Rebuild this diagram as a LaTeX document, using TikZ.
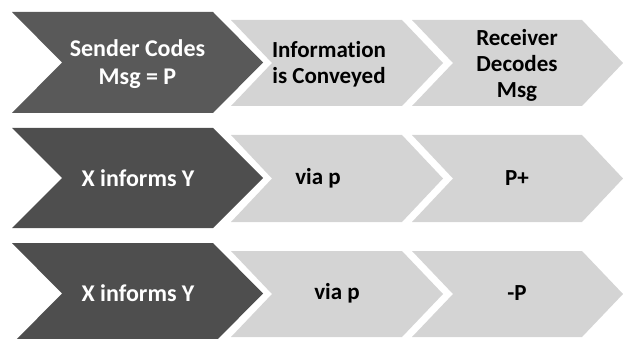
\documentclass[tikz,border=0pt]{standalone}
\usepackage{fontspec}
\setmainfont{Carlito}[Ligatures=NoCommon]
\definecolor{darkA}{HTML}{595959}
\definecolor{darkB}{HTML}{4E4E4E}
\definecolor{paleChev}{HTML}{D4D4D4}
% chevron: fill, left x, top y, width, height, point depth
\newcommand\chevronshape[6]{%
  \fill[#1] (#2,#3) -- ({#2+#4-#6},#3) -- ({#2+#4},{#3+#5/2})
    -- ({#2+#4-#6},{#3+#5}) -- (#2,{#3+#5}) -- ({#2+#6},{#3+#5/2}) -- cycle;}
\begin{document}
\begin{tikzpicture}[x=1pt,y=-1pt,
  darktxt/.style={text=white, font=\fontsize{24}{28}\selectfont\bfseries, align=center, inner sep=0pt},
  lighttxt/.style={text=black, font=\fontsize{23}{26}\selectfont\bfseries, align=center, inner sep=0pt}]
\useasboundingbox (0,0) rectangle (623,339);
\clip (0,0) rectangle (623,339);
% row 1
\chevronshape{darkA}{12}{12}{251}{101}{50}
\chevronshape{paleChev}{231}{20}{212}{86}{41}
\chevronshape{paleChev}{412}{20}{211}{86}{41}
% row 2
\chevronshape{darkB}{12}{128}{251}{100}{50}
\chevronshape{paleChev}{231}{135}{212}{87}{41}
\chevronshape{paleChev}{412}{135}{211}{87}{41}
% row 3
\chevronshape{darkB}{12}{243}{251}{101}{50}
\chevronshape{paleChev}{231}{251}{212}{86}{41}
\chevronshape{paleChev}{412}{251}{211}{86}{41}
% labels
\node[darktxt] (s1) at (137.5,64) {Sender Codes\\Msg = P};
\node[lighttxt] (c1) at (329,64) {Information\\is Conveyed};
\node[lighttxt] (r1) at (517,65) {Receiver\\Decodes\\Msg};
\node[darktxt] (s2) at (138,178) {X informs Y};
\node[lighttxt] (c2) at (318,178) {via p};
\node[lighttxt] (r2) at (517,178) {P+};
\node[darktxt] (s3) at (138,293) {X informs Y};
\node[lighttxt] (c3) at (337,293) {via p};
\node[lighttxt] (r3) at (517,293) {-P};
\end{tikzpicture}
\end{document}
